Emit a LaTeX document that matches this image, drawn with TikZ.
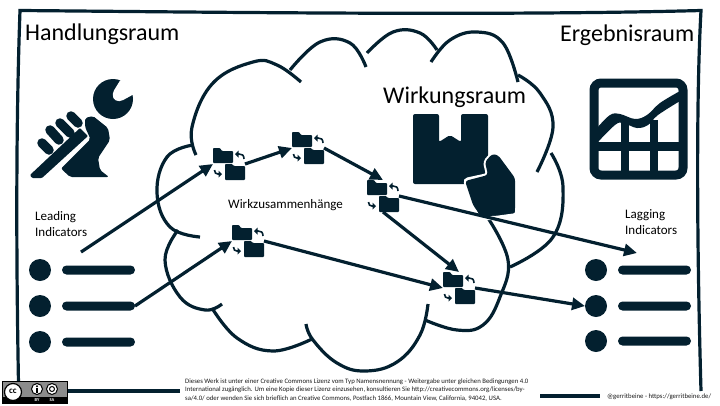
\documentclass[tikz,border=0pt]{standalone}
\usepackage{fontspec}
\setmainfont{Carlito}
\usetikzlibrary{arrows.meta}
\definecolor{navy}{HTML}{03202F}
\tikzset{
  frameline/.style={draw=navy,line width=3.2pt},
  cloudarc/.style={draw=navy,line width=3.2pt,line cap=butt},
  flow/.style={draw=navy,line width=3.2pt,-{Triangle[length=13pt,width=12pt]}},
  dotnode/.style={circle,fill=navy,minimum size=22pt,inner sep=0pt,outer sep=0pt},
  barnode/.style={rectangle,fill=navy,rounded corners=4.5pt,minimum width=73pt,minimum height=9pt,inner sep=0pt,outer sep=0pt},
  iconbox/.style={rectangle,minimum size=32pt,inner sep=0pt,outer sep=0pt},
  bigtext/.style={font=\fontsize{24}{26}\selectfont,text=black,inner sep=0pt,anchor=base west},
  midtext/.style={font=\fontsize{13}{15}\selectfont,text=black,inner sep=0pt,anchor=base west},
  smalltext/.style={font=\fontsize{6.75}{7}\selectfont,text=black!90,inner sep=0pt,anchor=base west},
  fingerline/.style={draw=navy,line width=9.5pt,line cap=round},
  pics/foldericon/.style={code={
    \fill[navy,rounded corners=0.8pt] (-16,-16) -- (-9,-16) -- (-7,-13) -- (4,-13) -- (4,-1) -- (-16,-1) -- cycle;
    \fill[navy,rounded corners=0.8pt] (-4,0) -- (3,0) -- (5,2) -- (16,2) -- (16,16) -- (-4,16) -- cycle;
    \draw[navy,line width=1.6pt] (15,-5) .. controls (15,-9) and (13,-10) .. (10,-10) -- (7.5,-10);
    \fill[navy] (6,-10) -- (9.5,-13.5) -- (9.5,-6.5) -- cycle;
    \draw[navy,line width=1.6pt] (-14.5,6) .. controls (-14.5,9) and (-13,10) .. (-11,10) -- (-9,10);
    \fill[navy] (-7,10) -- (-10.5,6.5) -- (-10.5,13.5) -- cycle;
  }}
}
\begin{document}
\begin{tikzpicture}[x=1pt,y=-1pt]
\useasboundingbox (0,0) rectangle (720,405);
% frame
\draw[frameline] (68,391) -- (180,391);
\draw[frameline] (540,396) -- (600,396);
\draw[frameline] (18.5,384) .. controls (17,300) and (15,150) .. (20,10.5) .. controls (200,12) and (500,16) .. (701,10.5) .. controls (696,100) and (697,250) .. (701,391);
% titles
\node[bigtext] (t1) at (25,40) {Handlungsraum};
\node[bigtext] (t2) at (560,41) {Ergebnisraum};
\node[bigtext] (t3) at (383,103) {Wirkungsraum};
\node[midtext] (t4) at (228,208) {Wirkzusammenhänge};
\node[midtext] (t5) at (35,220) {Leading};
\node[midtext] (t6) at (35,236) {Indicators};
\node[midtext] (t7) at (625,218) {Lagging};
\node[midtext] (t8) at (625,234) {Indicators};
% cloud
\draw[cloudarc] plot[smooth,tension=.7] coordinates {(196,155) (192,127) (213,83) (253,62) (277,65) (301,82)};
\draw[cloudarc] plot[smooth,tension=.7] coordinates {(290,70) (320,42) (350,43) (366,67)};
\draw[cloudarc] plot[smooth,tension=.7] coordinates {(367,53) (393,32) (420,33) (437,50)};
\draw[cloudarc] plot[smooth,tension=.7] coordinates {(431,62) (450,40) (477,32) (503,43) (518,82)};
\draw[cloudarc] plot[smooth,tension=.7] coordinates {(518,75) (540,93) (553,127) (537,172)};
\draw[cloudarc] plot[smooth,tension=.7] coordinates {(551,153) (563,187) (553,237) (510,267)};
\draw[cloudarc] plot[smooth,tension=.7] coordinates {(488,218) (508,260) (500,297) (483,325) (457,330) (425,320)};
\draw[cloudarc] plot[smooth,tension=.7] coordinates {(306,324) (313,340) (337,363) (365,371) (397,362) (420,335) (428,304)};
\draw[cloudarc] plot[smooth,tension=.7] coordinates {(212,308) (237,338) (273,351) (312,339)};
\draw[cloudarc] plot[smooth,tension=.7] coordinates {(222,304) (205,310) (180,297) (165,260) (178,230)};
\draw[cloudarc] plot[smooth,tension=.7] coordinates {(200,237) (170,227) (157,193) (167,157) (193,145)};
% fist with wrench
\fill[navy] (113,99) circle (20);
\fill[white,rounded corners=2pt] (121,79) -- (113,92) .. controls (112,100) and (118,103) .. (125,99) -- (136,93) -- (136,78) -- cycle;
\draw[fingerline] (42,143) -- (49,150);
\draw[fingerline] (50,130) -- (59,140);
\draw[fingerline] (60,123) -- (70,133);
\draw[fingerline] (71,116) -- (78,123);
\fill[navy,rounded corners=1pt] (30,175) -- (80,128) -- (88,136) -- (42,178) -- (32,178) -- cycle;
\fill[navy,rounded corners=2pt] (85,118) -- (93,116) -- (108,128) -- (110,140) -- (98,158) -- (100,170) -- (109,177) -- (70,177) -- (61,168.5) -- (90.5,139) -- (85,127) -- cycle;
% box with thumb
\fill[navy,rounded corners=2pt] (413,114) -- (439,114) -- (439,142) -- (450,135) -- (461,142) -- (461,114) -- (488,114) -- (488,184) -- (413,184) -- cycle;
\filldraw[navy,draw=white,line width=4pt,rounded corners=3pt] (465,180) -- (488,175) -- (485,162) -- (492,154) -- (498,155) -- (517,178) -- (517,215) -- (495,218) -- (478,218) -- (473,205) -- cycle;
\fill[white] (489,150) rectangle (520,170);
\fill[navy,rounded corners=3pt] (465,181) -- (488,175) -- (485,162) -- (492,154) -- (498,155) -- (515,178) -- (515,211) -- (495,215) -- (480,215) -- (473,205) -- cycle;
% chart icon
\draw[navy,line width=9pt,rounded corners=7pt] (594,83) rectangle (683,175);
\draw[navy,line width=9pt] (594,146) -- (683,146);
\draw[navy,line width=8pt] (625,120) -- (625,175);
\draw[navy,line width=8pt] (654,120) -- (654,175);
\fill[navy] plot[smooth,tension=.6] coordinates {(597,128) (610,115) (620,114) (635,119) (647,115) (660,103) (680,91)} -- plot[smooth,tension=.6] coordinates {(680,101) (658,115) (648,125) (637,128) (623,123) (615,125) (597,143)} -- cycle;
% lists
\node[dotnode] (l1) at (40,270) {};
\node[dotnode] (l2) at (40,306) {};
\node[dotnode] (l3) at (40,342) {};
\node[barnode] (lb1) at (98.5,270) {};
\node[barnode] (lb2) at (98.5,306) {};
\node[barnode] (lb3) at (98.5,342) {};
\node[dotnode] (r1) at (596,270) {};
\node[dotnode] (r2) at (596,306) {};
\node[dotnode] (r3) at (596,341) {};
\node[barnode] (rb1) at (654.5,270) {};
\node[barnode] (rb2) at (654.5,306) {};
\node[barnode] (rb3) at (654.5,341) {};
% folders
\node[iconbox] (f1) at (229,164) {};
\node[iconbox] (f2) at (308,148) {};
\node[iconbox] (f3) at (383,196) {};
\node[iconbox] (f4) at (248,241) {};
\node[iconbox] (f5) at (459,288) {};
\foreach \n in {f1,f2,f3,f4,f5} \pic at (\n.center) {foldericon};
% connectors
\coordinate (startA) at (81,252);
\coordinate (endA) at (637,253);
\draw[flow] (startA) -- (f1.west);
\draw[flow] (lb2.east) -- (f4.west);
\draw[flow] (f1.east) -- (f2.west);
\draw[flow] (f2.east) -- (f3.north);
\draw[flow] (f3.east) -- (endA);
\draw[flow] (f4.east) -- (f5.west);
\draw[flow] (f3.south) -- (f5.north);
\draw[flow] (f5.east) -- (r2.west);
% footer
\node[smalltext] (c1) at (185,383) {Dieses Werk ist unter einer Creative Commons Lizenz vom Typ Namensnennung - Weitergabe unter gleichen Bedingungen 4.0};
\node[smalltext] (c2) at (185,391) {International zugänglich. Um eine Kopie dieser Lizenz einzusehen, konsultieren Sie http://creativecommons.org/licenses/by-};
\node[smalltext] (c3) at (185,400) {sa/4.0/ oder wenden Sie sich brieflich an Creative Commons, Postfach 1866, Mountain View, California, 94042, USA.};
\node[smalltext] (c4) at (607,398.5) {@gerritbeine - https://gerritbeine.de/};
% cc badge
\fill[black] (1.5,381) rectangle (68,404);
\fill[black!45] (2.5,382) rectangle (67,397);
\filldraw[fill=white,draw=black,line width=1.2pt] (13,392) circle (8.5);
\node[inner sep=0pt,font=\bfseries\fontsize{9}{9}\selectfont] (cc) at (13,391.5) {cc};
\filldraw[fill=white,draw=black,line width=1pt] (37,389) circle (5.5);
\filldraw[fill=white,draw=black,line width=1pt] (52,389) circle (5.5);
\fill[black] (37,386.3) circle (1.1);
\fill[black] (35.6,388) rectangle (38.4,392.5);
\draw[black,line width=1pt] (52,389) circle (2.5);
\node[inner sep=0pt,text=white,font=\bfseries\fontsize{4.5}{5}\selectfont] (by) at (37,400.5) {BY};
\node[inner sep=0pt,text=white,font=\bfseries\fontsize{4.5}{5}\selectfont] (sa) at (52,400.5) {SA};
\end{tikzpicture}
\end{document}
